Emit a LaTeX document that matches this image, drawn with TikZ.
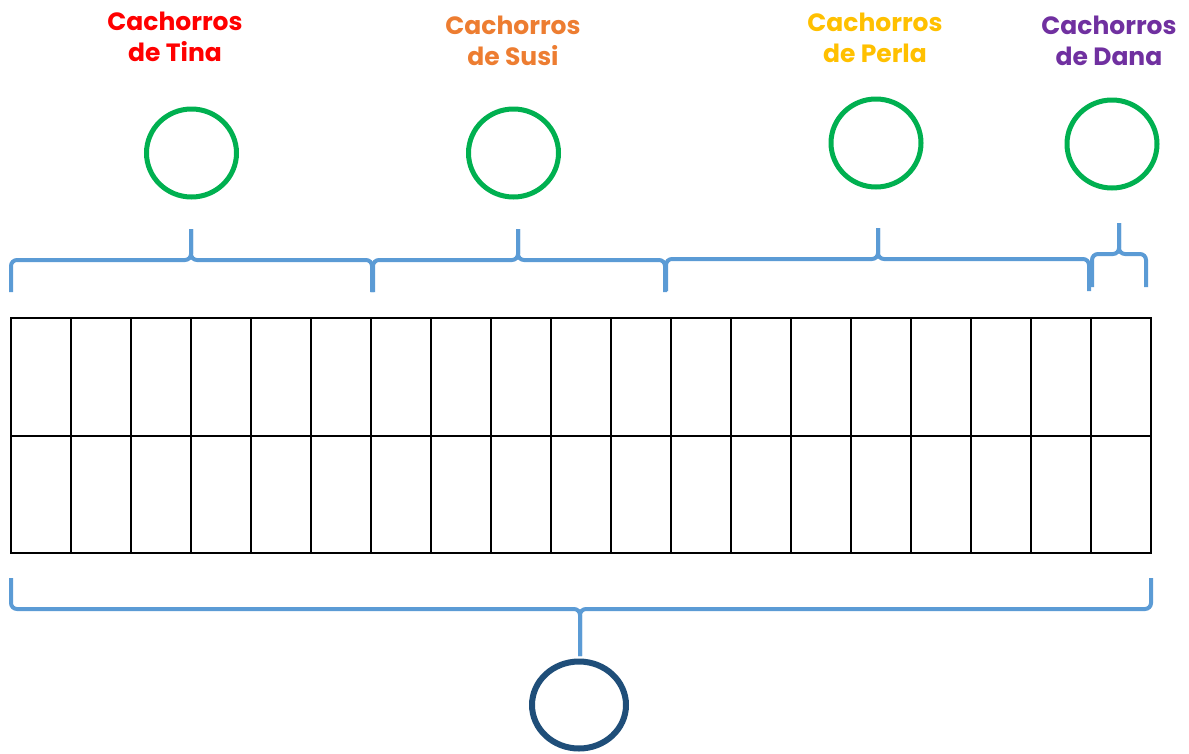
\documentclass[tikz,border=0pt]{standalone}
\usepackage{fontspec}
\setmainfont{Poppins}[BoldFont={* Bold}]
\definecolor{tina}{HTML}{FF0000}
\definecolor{susi}{HTML}{ED7D31}
\definecolor{perla}{HTML}{FFC000}
\definecolor{dana}{HTML}{7030A0}
\definecolor{ring}{HTML}{00B050}
\definecolor{total}{HTML}{1F4E79}
\definecolor{bracec}{HTML}{5B9BD5}
\tikzset{
  lbl/.style={anchor=north, inner sep=0pt, align=center, font=\bfseries\fontsize{25}{31}\selectfont},
  greenring/.style={draw=ring, line width=5pt, ellipse, minimum width=90pt, minimum height=88pt, inner sep=0pt},
  bluering/.style={draw=total, line width=6pt, ellipse, minimum width=94pt, minimum height=87pt, inner sep=0pt},
  bracestyle/.style={draw=bracec, line width=4pt, rounded corners=6pt},
  gridline/.style={draw=black, line width=2pt}
}
\usetikzlibrary{shapes.geometric}
\newcommand{\curly}[6]{% x1, xt, x2, yb, yend, ytip
  \draw[bracestyle] (#1,#5) -- (#1,#4) -- (#2,#4) -- (#2,#6);
  \draw[bracestyle] (#3,#5) -- (#3,#4) -- (#2,#4) -- (#2,#6);
}
\begin{document}
\begin{tikzpicture}[x=1pt,y=-1pt]
\useasboundingbox (0,0) rectangle (1189,753);
% labels
\node[lbl, text=tina]  (ltina)  at (175,12)  {Cachorros\\de Tina};
\node[lbl, text=susi]  (lsusi)  at (513,16) {Cachorros\\de Susi};
\node[lbl, text=perla] (lperla) at (875,13) {Cachorros\\de Perla};
\node[lbl, text=dana]  (ldana)  at (1109,16) {Cachorros\\de Dana};
% circles
\node[greenring] (ctina)  at (191.5,153) {};
\node[greenring] (csusi)  at (513.5,153) {};
\node[greenring] (cperla) at (876,143) {};
\node[greenring] (cdana)  at (1112,144) {};
\node[bluering]  (ctotal) at (579,705) {};
% braces
\curly{11}{191}{372}{260}{292}{229}
\curly{373}{518}{665}{260}{292}{229}
\curly{666}{878}{1089}{259}{291}{228}
\curly{1092}{1119}{1146}{254}{287}{223}
\curly{11}{580}{1151}{609}{578}{656}
% grid
\draw[gridline] (11,318) rectangle (1151,553);
\draw[gridline] (11,436) -- (1151,436);
\foreach \i in {1,...,18}{
  \draw[gridline] ({11+60*\i},318) -- ({11+60*\i},553);
}
\end{tikzpicture}
\end{document}
